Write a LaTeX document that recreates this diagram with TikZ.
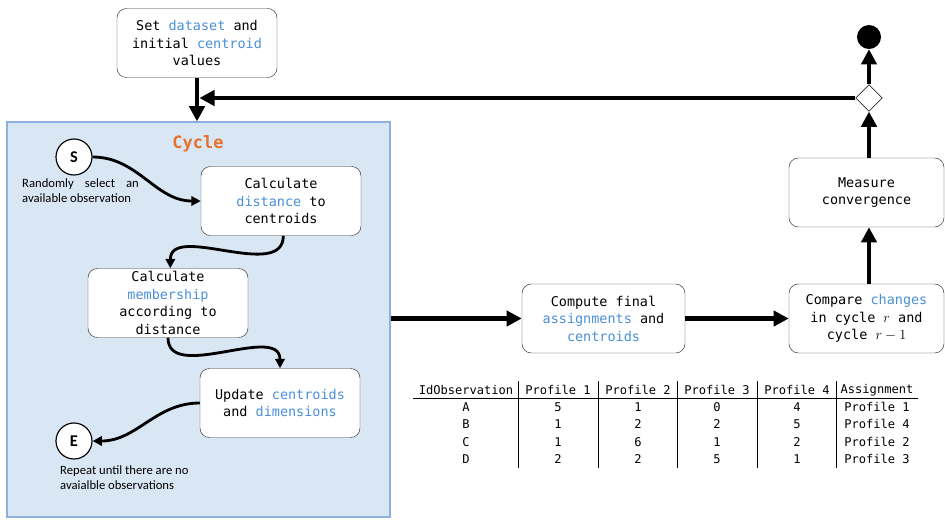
\documentclass[tikz,border=0pt]{standalone}
\usepackage{fontspec}
\setmonofont{DejaVu Sans Mono}
\newfontfamily\notefont{Carlito}
\usepackage{tikz}
\usetikzlibrary{arrows.meta,shapes.geometric,positioning}
\definecolor{keyblue}{RGB}{74,144,217}
\definecolor{cycleorange}{RGB}{232,112,42}
\definecolor{cyclefill}{RGB}{217,231,245}
\definecolor{cycleline}{RGB}{142,176,220}
\newcommand{\kw}[1]{\textcolor{keyblue}{#1}}
\tikzset{
  stepbox/.style={draw=black!80,fill=white,rounded corners=8pt,align=center,
    minimum width=4.8cm,minimum height=2.07cm,inner sep=2pt,
    font=\ttfamily\fontsize{11.5}{14.9}\selectfont},
  endpoint/.style={circle,draw,line width=1pt,fill=white,minimum size=1.08cm,
    inner sep=0pt,font=\notefont\bfseries\fontsize{14}{16}\selectfont},
  note/.style={font=\notefont\fontsize{10.8}{13}\selectfont,inner sep=0pt},
  cell/.style={font=\ttfamily\fontsize{10.3}{12}\selectfont,inner sep=1pt},
  flow/.style={line width=4pt,-{Triangle[length=13pt,width=13pt]}},
  curvearrow/.style={line width=2.4pt,-{Triangle[length=8pt,width=8pt]}}
}
\def\cyclebox{\node[draw=cycleline,line width=1pt,fill=cyclefill,
  minimum width=11.49cm,minimum height=11.85cm]}

\begin{document}
\begin{tikzpicture}[x=0.03cm,y=-0.03cm]
\useasboundingbox (0,0) rectangle (945,519);
\cyclebox (cycle) at (198.5,319.5) {};
\node[font=\ttfamily\bfseries\fontsize{14.5}{16}\selectfont,text=cycleorange] (title) at (198,144) {Cycle};
\node[stepbox] (set) at (197,43) {Set \kw{dataset} and\\initial \kw{centroid}\\values};
\node[endpoint] (s) at (74,157) {S};
\node[note,text width=3.5cm,align=justify,anchor=north west] (snote) at (22,178) {\hyphenpenalty=10000\relax Randomly select an available observation};
\node[stepbox] (dist) at (281,201) {Calculate\\\kw{distance} to\\centroids};
\node[stepbox] (memb) at (168,303) {Calculate\\\kw{membership}\\according to\\distance};
\node[stepbox] (upd) at (280,403) {Update \kw{centroids}\\and \kw{dimensions}};
\node[endpoint] (e) at (74,441) {E};
\node[note,align=left,anchor=north west] (enote) at (60,465) {Repeat until there are no\\avaialble observations};
\node[stepbox,minimum width=4.89cm] (final) at (603.5,318.5) {Compute final\\\kw{assignments} and\\\kw{centroids}};
\node[stepbox,minimum width=4.65cm] (comp) at (866.5,318.5) {Compare \kw{changes}\\in cycle $r$ and\\cycle $r-1$};
\node[stepbox,minimum width=4.65cm] (meas) at (866.5,192.5) {Measure\\convergence};
\node[diamond,draw,fill=white,minimum size=0.8cm,inner sep=0pt] (check) at (869,98) {};
\node[circle,fill=black,minimum size=0.72cm,inner sep=0pt] (done) at (869,37) {};

\draw[curvearrow] (s.east) to[out=0,in=180] (dist.west);
\draw[curvearrow] ([xshift=2pt]dist.south) to[out=-90,in=90] ([xshift=2pt]memb.north);
\draw[curvearrow] (memb.south) to[out=-90,in=90] (upd.north);
\draw[curvearrow] (upd.west) to[out=180,in=0] (e.east);

\draw[flow] (set.south) -- (set.south |- cycle.north);
\draw[flow] (cycle.east |- final.west) -- (final.west);
\draw[flow] (final.east) -- (comp.west);
\draw[flow] (comp.north -| check) -- (meas.south -| check);
\draw[flow] (meas.north -| check) -- (check.south);
\draw[flow] (check.north) -- (done.south);
\draw[flow,shorten >=2pt] (check.west) -- (set.south |- check.west);

% table of assignments
\foreach \x/\t in {466/IdObservation,558/Profile 1,638/Profile 2,717/Profile 3,797/Profile 4,877/Assignment}
  \node[cell] (head-\x) at (\x,390) {\t};
\foreach \y/\id/\a/\b/\c/\d/\g in {407/A/5/1/0/4/Profile 1,424/B/1/2/2/5/Profile 4,
    442/C/1/6/1/2/Profile 2,459/D/2/2/5/1/Profile 3} {
  \node[cell] (id-\id) at (466,\y) {\id};
  \node[cell] at (558,\y) {\a};
  \node[cell] at (638,\y) {\b};
  \node[cell] at (717,\y) {\c};
  \node[cell] at (797,\y) {\d};
  \node[cell] at (877,\y) {\g};
}
\draw[line width=0.8pt] (413,398) -- (918,398);
\foreach \x in {518,598,677,757,836}
  \draw[line width=0.6pt] (\x,381) -- (\x,468);
\end{tikzpicture}
\end{document}
